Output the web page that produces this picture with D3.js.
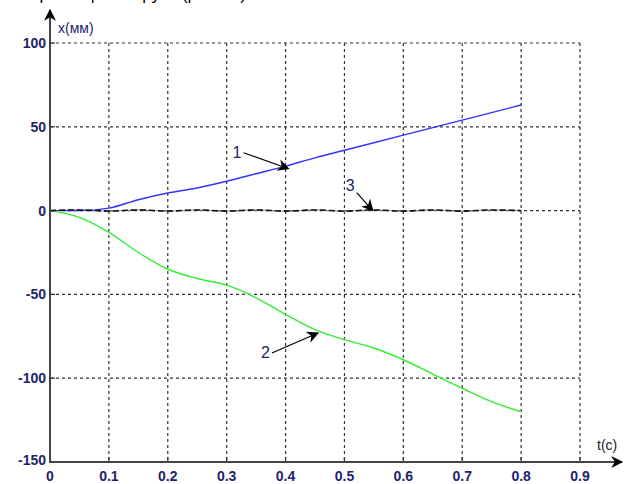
<!DOCTYPE html>
<html>
<head>
<meta charset="utf-8">
<script src="https://cdn.jsdelivr.net/npm/d3@7"></script>
<style>
  body { margin: 0; background: #fff; }
  svg { display: block; font-family: Arial, "Liberation Sans", sans-serif; }
</style>
</head>
<body>
<div id="chart"></div>
<script>
// time samples (s)
const times = [0, 0.05, 0.1, 0.15, 0.2, 0.25, 0.3, 0.35, 0.4, 0.45, 0.5, 0.55, 0.6, 0.65, 0.7, 0.75, 0.8];
// curve 1 (blue), curve 2 (green), curve 3 (black dashed), mm
const curve1 = [0, 0, 1.5, 6.5, 10.5, 13.5, 17.5, 22, 26.5, 31.5, 36, 40.5, 45, 49.5, 54, 58.5, 63];
const curve2 = [0, -4, -13, -25, -35, -40.5, -44.5, -52, -62, -71, -77, -82, -89, -97.5, -106, -114, -120];
const curve3 = [0, 0.4, -0.3, 0.4, -0.3, 0.4, -0.3, 0.4, -0.3, 0.4, -0.3, 0.4, -0.3, 0.4, -0.3, 0.4, 0];

const xTicks = [0, 0.1, 0.2, 0.3, 0.4, 0.5, 0.6, 0.7, 0.8, 0.9];
const yTicks = [-150, -100, -50, 0, 50, 100];

// annotation labels: text, anchor point on curve (t, value)
const notes = [
  {label: '1', t: 0.405, v: 25},
  {label: '2', t: 0.455, v: -73},
  {label: '3', t: 0.548, v: 0}
];

const width = 625, height = 484;
const labelColor = '#23236b';

const svg = d3.select('#chart')
  .append('svg')
  .attr('width', width)
  .attr('height', height);

const x = d3.scaleLinear().domain([0, 0.9]).range([50, 580]);
const y = d3.scaleLinear().domain([-150, 100]).range([462, 43]);

const defs = svg.append('defs');
defs.append('marker')
  .attr('id', 'arrow')
  .attr('viewBox', '0 0 10 10')
  .attr('refX', 9)
  .attr('refY', 5)
  .attr('markerWidth', 14)
  .attr('markerHeight', 12)
  .attr('markerUnits', 'userSpaceOnUse')
  .attr('orient', 'auto')
  .append('path')
  .attr('d', 'M0,0 L10,5 L0,10 L3,5 Z')
  .attr('fill', '#000');

// title, cut off at the very top like in the source image
svg.append('text')
  .attr('x', 246)
  .attr('y', 0)
  .attr('text-anchor', 'end')
  .attr('font-size', 17)
  .attr('fill', '#000')
  .text('Перемещение груза (расчет)');

// grid
const grid = svg.append('g')
  .attr('stroke', '#333')
  .attr('stroke-width', 1.2)
  .attr('stroke-dasharray', '3,3');

grid.selectAll('line.vx')
  .data(xTicks.filter(d => d > 0))
  .join('line')
  .attr('x1', d => x(d)).attr('x2', d => x(d))
  .attr('y1', y(100)).attr('y2', y(-150));

grid.selectAll('line.hy')
  .data(yTicks.filter(d => d > -150))
  .join('line')
  .attr('x1', x(0)).attr('x2', x(0.9))
  .attr('y1', d => y(d)).attr('y2', d => y(d));

// small solid ticks
svg.append('g')
  .selectAll('line')
  .data(xTicks.filter(d => d > 0))
  .join('line')
  .attr('x1', d => x(d)).attr('x2', d => x(d))
  .attr('y1', y(-150)).attr('y2', y(-150) - 5)
  .attr('stroke', '#333').attr('stroke-width', 1.2);

svg.append('g')
  .selectAll('line')
  .data(yTicks.filter(d => d > -150))
  .join('line')
  .attr('x1', x(0)).attr('x2', x(0) + 5)
  .attr('y1', d => y(d)).attr('y2', d => y(d))
  .attr('stroke', '#333').attr('stroke-width', 1.2);

// curves
const line = (vals) => d3.line()
  .x((d, i) => x(times[i]))
  .y(d => y(d))
  .curve(d3.curveMonotoneX)(vals);

svg.append('path')
  .attr('d', line(curve3))
  .attr('fill', 'none')
  .attr('stroke', '#999')
  .attr('stroke-width', 1.2);

svg.append('path')
  .attr('d', line(curve1))
  .attr('fill', 'none')
  .attr('stroke', '#3333ff')
  .attr('stroke-width', 1.4);

svg.append('path')
  .attr('d', line(curve2))
  .attr('fill', 'none')
  .attr('stroke', '#33ee33')
  .attr('stroke-width', 1.4);

svg.append('path')
  .attr('d', line(curve3))
  .attr('fill', 'none')
  .attr('stroke', '#111')
  .attr('stroke-width', 1.6)
  .attr('stroke-dasharray', '6,3');

// axes with arrows
svg.append('line')
  .attr('x1', x(0)).attr('x2', x(0))
  .attr('y1', y(-150) + 1).attr('y2', 10)
  .attr('stroke', '#444').attr('stroke-width', 2)
  .attr('marker-end', 'url(#arrow)');

svg.append('line')
  .attr('x1', x(0) - 1).attr('x2', 622)
  .attr('y1', y(-150)).attr('y2', y(-150))
  .attr('stroke', '#444').attr('stroke-width', 2)
  .attr('marker-end', 'url(#arrow)');

// tick labels
svg.append('g')
  .selectAll('text')
  .data(yTicks)
  .join('text')
  .attr('x', x(0) - 4)
  .attr('y', d => y(d) + (d === -150 ? 3 : 5))
  .attr('text-anchor', 'end')
  .attr('font-size', 14)
  .attr('font-weight', 'bold')
  .attr('fill', labelColor)
  .text(d => d);

svg.append('g')
  .selectAll('text')
  .data(xTicks)
  .join('text')
  .attr('x', d => x(d))
  .attr('y', 481)
  .attr('text-anchor', 'middle')
  .attr('font-size', 14)
  .attr('font-weight', 'bold')
  .attr('fill', labelColor)
  .text(d => d === 0 ? '0' : d3.format('.1f')(d));

// axis titles
svg.append('text')
  .attr('x', 58).attr('y', 33)
  .attr('font-size', 14)
  .attr('fill', labelColor)
  .text('x(мм)');

svg.append('text')
  .attr('x', 597).attr('y', 450)
  .attr('font-size', 14)
  .attr('fill', '#222')
  .text('t(c)');

// curve annotations
const offsets = {'1': [-45, -16], '2': [-46, 20], '3': [-16, -18]};
notes.forEach(n => {
  const px = x(n.t), py = y(n.v);
  const [dx, dy] = offsets[n.label];
  svg.append('line')
    .attr('x1', px + dx).attr('y1', py + dy)
    .attr('x2', px).attr('y2', py)
    .attr('stroke', '#000').attr('stroke-width', 1.2)
    .attr('marker-end', 'url(#arrow)');
  svg.append('text')
    .attr('x', px + dx - 2)
    .attr('y', py + dy + (n.label === '3' ? -2 : 5))
    .attr('text-anchor', 'end')
    .attr('font-size', 16)
    .attr('fill', labelColor)
    .text(n.label);
});
</script>
</body>
</html>
